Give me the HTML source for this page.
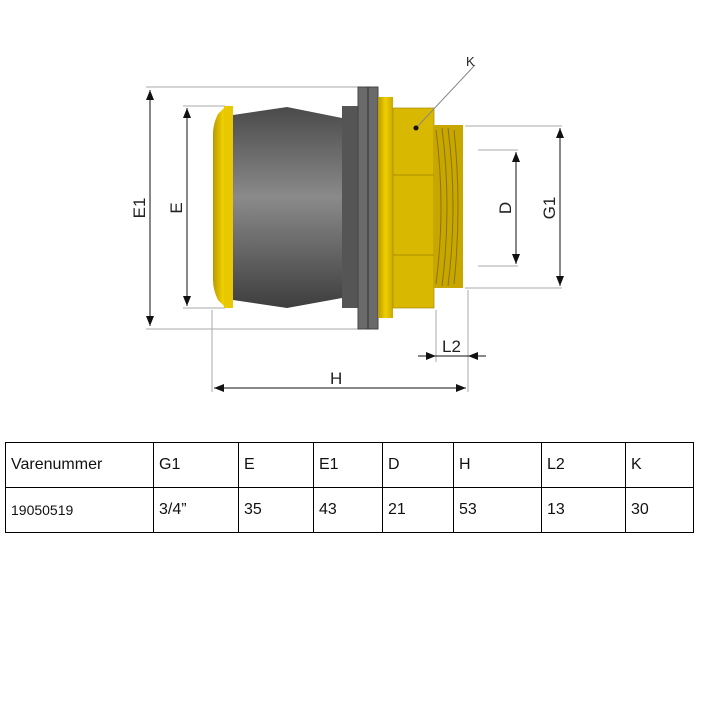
<!DOCTYPE html>
<html><head><style>
body{margin:0;background:#fff;width:702px;height:702px;overflow:hidden;font-family:"Liberation Sans",sans-serif}
table{position:absolute;left:5px;top:442px;border-collapse:collapse;width:689px}
td{border:1.5px solid #000;height:44px;padding:0 0 0 5px;font-size:16px;color:#111;vertical-align:middle}
</style></head><body>
<svg width="702" height="430" style="position:absolute;left:0;top:0">
<defs>
<linearGradient id="g" x1="0" y1="0" x2="0" y2="1"><stop offset="0" stop-color="#4a4a4a"/><stop offset="0.45" stop-color="#8a8a8a"/><stop offset="1" stop-color="#3e3e3e"/></linearGradient>
<linearGradient id="y" x1="0" y1="0" x2="1" y2="0"><stop offset="0" stop-color="#b89a00"/><stop offset="0.5" stop-color="#f0d000"/><stop offset="1" stop-color="#c8a800"/></linearGradient>
<marker id="a" markerWidth="10" markerHeight="8" refX="10" refY="4" orient="auto-start-reverse" markerUnits="userSpaceOnUse"><path d="M0,0L10,4L0,8z" fill="#111"/></marker>
</defs>
<g stroke="#aaa" stroke-width="1" fill="none">
<path d="M146 87H358M146 329H358M183 106H225M183 308H225M465 126H562M465 288H562M478 150H518M478 266H518M436 310V362M468 290V392M212 310V392"/>
</g>
<g stroke="#111" stroke-width="1" fill="none">
<line x1="150" y1="90" x2="150" y2="326" marker-start="url(#a)" marker-end="url(#a)"/>
<line x1="187" y1="108" x2="187" y2="306" marker-start="url(#a)" marker-end="url(#a)"/>
<line x1="560" y1="128" x2="560" y2="286" marker-start="url(#a)" marker-end="url(#a)"/>
<line x1="516" y1="152" x2="516" y2="264" marker-start="url(#a)" marker-end="url(#a)"/>
<line x1="214" y1="388" x2="466" y2="388" marker-start="url(#a)" marker-end="url(#a)"/>
<line x1="418" y1="356" x2="436" y2="356" marker-end="url(#a)"/>
<line x1="486" y1="356" x2="468" y2="356" marker-end="url(#a)"/>
<line x1="436" y1="356" x2="468" y2="356"/>
</g>
<path d="M233 115L287 107L342 118V298L287 308L233 300Z" fill="url(#g)"/>
<rect x="342" y="106" width="16" height="202" fill="#555"/>
<rect x="358" y="87" width="20" height="242" fill="#6a6a6a" stroke="#444"/>
<line x1="368" y1="87" x2="368" y2="329" stroke="#333"/>
<path d="M218 114L226 106H233V308H226L218 300Q213 290 213 280V134Q213 124 218 114Z" fill="url(#y)"/>
<rect x="224" y="106" width="9" height="202" fill="#e8c800"/>
<rect x="378" y="97" width="15" height="221" fill="url(#y)"/>
<rect x="393" y="108" width="41" height="200" fill="#d8b800" stroke="#a88c00" stroke-width="0.7"/>
<path d="M393 175H434M393 255H434" stroke="#a88c00"/>
<rect x="434" y="125" width="29" height="163" fill="#c8a600"/>
<path d="M436 130Q446 207 436 284M442 128Q452 207 442 286M448 128Q458 207 448 286M454 130Q462 207 454 284" stroke="#8a7400" fill="none"/>
<line x1="416" y1="128" x2="475" y2="65" stroke="#888"/>
<circle cx="416" cy="128" r="2.5" fill="#111"/>
<g font-family="Liberation Sans,sans-serif" font-size="17" fill="#222">
<text x="466" y="66" font-size="13">K</text>
<text x="330" y="384">H</text>
<text x="442" y="352">L2</text>
<text transform="translate(145,208) rotate(-90)" text-anchor="middle">E1</text>
<text transform="translate(182,208) rotate(-90)" text-anchor="middle">E</text>
<text transform="translate(511,208) rotate(-90)" text-anchor="middle">D</text>
<text transform="translate(555,208) rotate(-90)" text-anchor="middle">G1</text>
</g>
</svg>
<table>
<tr><td style="width:142px">Varenummer</td><td style="width:79px">G1</td><td style="width:69px">E</td><td style="width:63px">E1</td><td style="width:65px">D</td><td style="width:82px">H</td><td style="width:78px">L2</td><td>K</td></tr>
<tr><td style="font-size:14px">19050519</td><td>3/4”</td><td>35</td><td>43</td><td>21</td><td>53</td><td>13</td><td>30</td></tr>
</table>
</body></html>
